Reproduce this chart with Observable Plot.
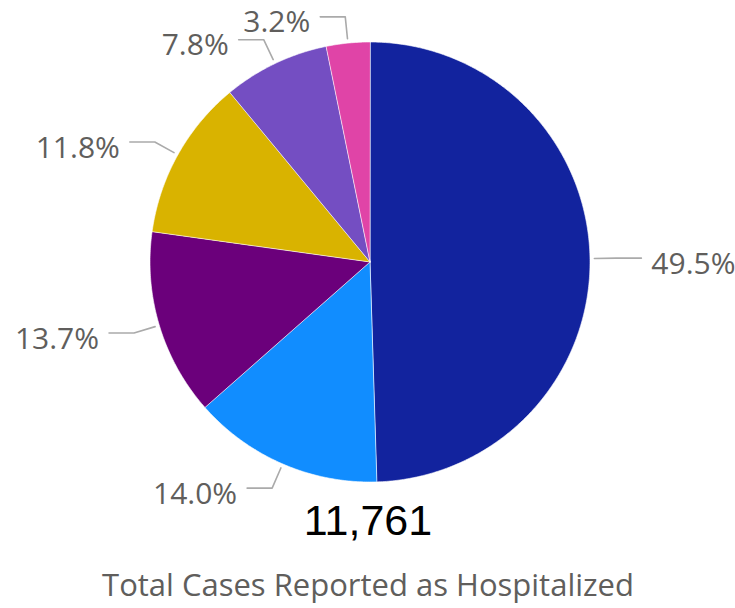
<!DOCTYPE html>
<html>
<head>
<meta charset="utf-8">
<script src="https://cdn.jsdelivr.net/npm/d3@7"></script>
<script src="https://cdn.jsdelivr.net/npm/@observablehq/plot@0.6"></script>
<style>
  html, body { margin: 0; padding: 0; background: #fff; }
  #chart svg { display: block; }
</style>
</head>
<body>
<div id="chart"></div>
<script>
// ---- Data ----
const categories = ["A", "B", "C", "D", "E", "F"];
const shares = [49.5, 14.0, 13.7, 11.8, 7.8, 3.2];
const shareLabels = ["49.5%", "14.0%", "13.7%", "11.8%", "7.8%", "3.2%"];
const colors = ["#12239E", "#118DFF", "#6B007B", "#D9B300", "#744EC2", "#E044A7"];
const totalLabel = "11,761";
const caption = "Total Cases Reported as Hospitalized";

// ---- Geometry derived from data (unit radius, y up) ----
const arcs = d3.pie().sort(null).value(d => d)(shares);
const slicePts = [];
arcs.forEach((a, i) => {
  slicePts.push({key: categories[i], x: 0, y: 0});
  const n = Math.max(2, Math.ceil((a.endAngle - a.startAngle) / (Math.PI / 360)));
  for (let k = 0; k <= n; k++) {
    const t = a.startAngle + (a.endAngle - a.startAngle) * k / n;
    slicePts.push({key: categories[i], x: Math.sin(t), y: Math.cos(t)});
  }
});

const hSeg = 25 / 220; // horizontal leader length in radius units
const leaders = [];
const labelPts = [];
arcs.forEach((a, i) => {
  const m = (a.startAngle + a.endAngle) / 2;
  const side = Math.sin(m) >= 0 ? 1 : -1;
  const p0 = {x: 1.02 * Math.sin(m), y: 1.02 * Math.cos(m)};
  const p1 = {x: 1.12 * Math.sin(m), y: 1.12 * Math.cos(m)};
  const p2 = {x: p1.x + side * hSeg, y: p1.y};
  [p0, p1, p2].forEach(p => leaders.push({key: categories[i], ...p}));
  labelPts.push({label: shareLabels[i], side, x: p2.x, y: p2.y});
});

const font = "'Open Sans', 'Noto Sans', sans-serif";

const chart = Plot.plot({
  width: 735,
  height: 608,
  margin: 0,
  style: {fontFamily: font, background: "#fff"},
  x: {domain: [-1, 1], range: [149.5, 589.5], axis: null},
  y: {domain: [-1, 1], range: [481.5, 41.5], axis: null},
  color: {domain: categories, range: colors},
  marks: [
    Plot.line(slicePts, {x: "x", y: "y", z: "key", fill: "key", stroke: "white", strokeWidth: 0.6, curve: "linear-closed"}),
    Plot.line(leaders, {x: "x", y: "y", z: "key", stroke: "#AAAAAA", strokeWidth: 1.6, curve: "linear"}),
    Plot.text(labelPts.filter(d => d.side > 0), {x: "x", y: "y", text: "label", textAnchor: "start", dx: 10, dy: 6, fontSize: 30, fill: "#605E5C"}),
    Plot.text(labelPts.filter(d => d.side < 0), {x: "x", y: "y", text: "label", textAnchor: "end", dx: -10, dy: 6, fontSize: 30, fill: "#605E5C"}),
    Plot.text([totalLabel], {text: d => d, frameAnchor: "bottom", dy: -87, lineAnchor: "middle", fontSize: 43, fontFamily: "'Liberation Sans', Arial, sans-serif", fill: "#000"}),
    Plot.text([caption], {text: d => d, frameAnchor: "bottom", dy: -22, lineAnchor: "middle", fontSize: 31, fill: "#605E5C", letterSpacing: "0.4px"})
  ]
});
document.getElementById("chart").appendChild(chart);
</script>
</body>
</html>
